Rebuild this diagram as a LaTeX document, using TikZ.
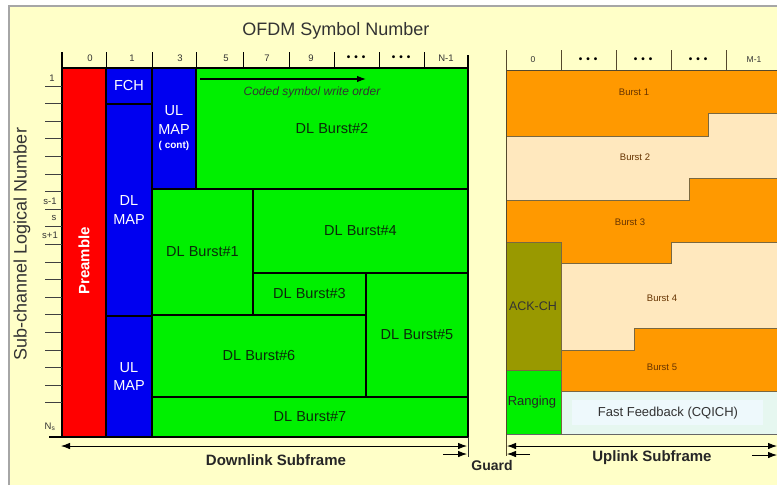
\documentclass[tikz,border=0pt]{standalone}
\usepackage{fontspec}
\setmainfont{Liberation Sans}
\usetikzlibrary{arrows.meta}
\definecolor{bgy}{HTML}{FFFFC8}
\definecolor{dlred}{HTML}{FF0000}
\definecolor{dlblue}{HTML}{0000F0}
\definecolor{dlgreen}{HTML}{00F000}
\definecolor{dltext}{HTML}{0A2A0A}
\definecolor{txtgray}{HTML}{333333}
\definecolor{ulorange}{HTML}{FF9900}
\definecolor{ulpeach}{HTML}{FFE8BE}
\definecolor{ulolive}{HTML}{999900}
\definecolor{ulline}{HTML}{7A6840}
\definecolor{ffbg}{HTML}{E6F7F0}
\definecolor{ffin}{HTML}{EEF9FC}
\definecolor{brn}{HTML}{663300}
\begin{document}
\begin{tikzpicture}[x=1pt,y=-1pt,
  blk/.style={draw=black,line width=1.5pt,inner sep=0pt,outer sep=0pt,anchor=north west,align=center,font=\fontsize{14.5}{18.5}\selectfont},
  dlb/.style={blk,fill=dlgreen,text=dltext},
  bluebox/.style={blk,fill=dlblue,text=white},
  tk/.style={draw=black,line width=0.8pt},
  utk/.style={draw=ulline!70!black,line width=0.8pt},
  tkl/.style={font=\fontsize{9.5}{11}\selectfont,text=txtgray,inner sep=0pt},
  dotl/.style={font=\fontsize{10}{11}\selectfont\bfseries,text=black,inner sep=0pt},
  ulb/.style={draw=ulline,line width=0.7pt},
  blbl/.style={font=\fontsize{9.5}{11}\selectfont,text=brn,inner sep=0pt},
  arr/.style={-{Latex[length=9pt,width=6.5pt]},line width=0.8pt},
  darr/.style={{Latex[length=9pt,width=6.5pt]}-{Latex[length=9pt,width=6.5pt]},line width=0.8pt},
  ttl/.style={font=\fontsize{18}{20}\selectfont,text=txtgray,inner sep=0pt},
  bttl/.style={font=\fontsize{15}{17}\selectfont\bfseries,text=black!85,inner sep=0pt}
 ]
\useasboundingbox (0,0) rectangle (777,485);
% background
\fill[white] (0,0) rectangle (777,485);
\fill[bgy] (9,6) rectangle (777,485);
\draw[gray!70,line width=1.2pt] (9,485) -- (9,6) -- (777,6);

% titles
\node[ttl] (ofdm) at (336,31) {OFDM Symbol Number};
\node[ttl,rotate=90] (subch) at (22,244) {Sub-channel Logical Number};

% ---------------- Downlink blocks ----------------
\node[blk,fill=dlred,minimum width=44pt,minimum height=369pt] (pre) at (62,68) {};
\node[font=\fontsize{15}{17}\selectfont\bfseries,text=white,rotate=90,inner sep=0pt] (pretxt) at (84,261) {Preamble};
\node[bluebox,minimum width=46pt,minimum height=36pt] (fch) at (106,68) {FCH};
\node[bluebox,minimum width=46pt,minimum height=212pt] (dlmap) at (106,104) {DL\\MAP};
\node[bluebox,minimum width=46pt,minimum height=121pt] (ulmap) at (106,316) {UL\\MAP};
\node[bluebox,minimum width=44pt,minimum height=121pt] (ulcont) at (152,68) {UL\\MAP\\[-4pt]{\fontsize{10}{12}\selectfont\bfseries( cont)}};
\node[dlb,minimum width=272pt,minimum height=121pt] (b2) at (196,68) {DL Burst\#2};
\node[dlb,minimum width=101pt,minimum height=126pt] (b1) at (152,189) {DL Burst\#1};
\node[dlb,minimum width=215pt,minimum height=84pt] (b4) at (253,189) {DL Burst\#4};
\node[dlb,minimum width=113pt,minimum height=42pt] (b3) at (253,273) {DL Burst\#3};
\node[dlb,minimum width=102pt,minimum height=124pt] (b5) at (366,273) {DL Burst\#5};
\node[dlb,minimum width=214pt,minimum height=82pt] (b6) at (152,315) {DL Burst\#6};
\node[dlb,minimum width=316pt,minimum height=40pt] (b7) at (152,397) {DL Burst\#7};

% write order arrow
\coordinate (wo1) at (200,79);
\coordinate (wo2) at (366,79);
\draw[arr,line width=1.1pt] (wo1) -- (wo2);
\node[font=\fontsize{12}{14}\selectfont\itshape,text=txtgray,inner sep=0pt] (wotxt) at (312,92) {Coded symbol write order};

% DL axes
\foreach \x in {106,152,196,243,289,334,379,424} \draw[tk] (\x,52) -- (\x,68);
\draw[black,line width=2.5pt] (62,52) -- (62,438);
\draw[black,line width=2.5pt] (468,55) -- (468,438);
\draw[black,line width=2.5pt] (61,68) -- (469,68);
\draw[black,line width=2.5pt] (49,437) -- (469,437);
\foreach \k in {0,...,18} \draw[tk,draw=black!75] (45,86+17.6*\k) -- (62,86+17.6*\k);

% DL tick labels
\node[tkl] (c0) at (90,58) {0};
\node[tkl] (c1) at (132,58) {1};
\node[tkl] (c3) at (180,58) {3};
\node[tkl] (c5) at (226,58) {5};
\node[tkl] (c7) at (267,58) {7};
\node[tkl] (c9) at (311,58) {9};
\node[dotl] (cd1) at (356,58) {•\hspace{4pt}•\hspace{4pt}•};
\node[dotl] (cd2) at (401,58) {•\hspace{4pt}•\hspace{4pt}•};
\node[tkl] (cn) at (446,58) {N-1};
\node[tkl] (r1) at (52,78) {1};
\node[tkl] (rs1) at (50,201) {s-1};
\node[tkl] (rs) at (54,218) {s};
\node[tkl] (rs2) at (50,235) {s+1};
\node[tkl] (rn) at (50,427) {N$_{\mathrm{s}}$};

% ---------------- Uplink ----------------
\fill[ulorange] (506,70) -- (777,70) -- (777,113) -- (708,113) -- (708,136) -- (506,136) -- cycle;
\fill[ulpeach] (506,136) -- (708,136) -- (708,113) -- (777,113) -- (777,178) -- (689,178) -- (689,200) -- (506,200) -- cycle;
\fill[ulorange] (506,200) -- (689,200) -- (689,178) -- (777,178) -- (777,242) -- (671,242) -- (671,263) -- (561,263) -- (561,242) -- (506,242) -- cycle;
\fill[ulolive] (506,242) rectangle (561,370);
\fill[ulpeach] (561,263) -- (671,263) -- (671,242) -- (777,242) -- (777,328) -- (634,328) -- (634,350) -- (561,350) -- cycle;
\fill[ulorange] (561,350) -- (634,350) -- (634,328) -- (777,328) -- (777,391) -- (561,391) -- cycle;
\fill[dlgreen] (506,370) rectangle (561,434);
\fill[ffbg] (561,391) rectangle (777,434);
\fill[ffin] (572,400) rectangle (763,425);
% borders
\draw[ulb] (506,136) -- (708,136) -- (708,113) -- (777,113);
\draw[ulb] (506,200) -- (689,200) -- (689,178) -- (777,178);
\draw[ulb] (506,242) -- (561,242) -- (561,263) -- (671,263) -- (671,242) -- (777,242);
\draw[ulb] (561,242) -- (561,434);
\draw[ulb] (561,350) -- (634,350) -- (634,328) -- (777,328);
\draw[ulb] (561,391) -- (777,391);
\draw[ulb] (506,370) -- (561,370);
\draw[draw=gray!80!black,line width=0.8pt] (506,434) -- (777,434);
% UL axes
\draw[utk] (506,50) -- (506,456);
\draw[utk] (506,70) -- (777,70);
\foreach \x in {561,616,671,726} \draw[utk] (\x,50) -- (\x,70);
\node[tkl,font=\fontsize{8.5}{10}\selectfont] (u0) at (533,60) {0};
\node[dotl] (ud1) at (588,60) {•\hspace{4pt}•\hspace{4pt}•};
\node[dotl] (ud2) at (643,60) {•\hspace{4pt}•\hspace{4pt}•};
\node[dotl] (ud3) at (698,60) {•\hspace{4pt}•\hspace{4pt}•};
\node[tkl,font=\fontsize{8.5}{10}\selectfont] (um) at (754,60) {M-1};

% UL labels
\node[blbl] (u1) at (634,92) {Burst 1};
\node[blbl] (u2) at (635,157) {Burst 2};
\node[blbl] (u3) at (630,222) {Burst 3};
\node[blbl] (u4) at (662,298) {Burst 4};
\node[blbl] (u5) at (662,367) {Burst 5};
\node[font=\fontsize{12.5}{14}\selectfont,text=black!80,inner sep=0pt] (ack) at (533,306) {ACK-CH};
\node[font=\fontsize{13}{15}\selectfont,text=black!85,inner sep=0pt] (rng) at (532,402) {Ranging};
\node[font=\fontsize{13}{15}\selectfont,text=txtgray,inner sep=0pt] (ff) at (668,413) {Fast Feedback (CQICH)};

% ---------------- bottom arrows ----------------
\draw[black!80,line width=0.8pt] (468,437) -- (468,457);
\coordinate (dlL) at (61,446);
\coordinate (dlR) at (467,446);
\draw[darr] (dlL) -- (dlR);
\coordinate (g1s) at (443,454);
\coordinate (g1e) at (467,454);
\draw[arr] (g1s) -- (g1e);
\coordinate (g2s) at (530,454);
\coordinate (g2e) at (507,454);
\draw[arr] (g2s) -- (g2e);
\coordinate (ulL) at (507,446);
\coordinate (ulR) at (777,446);
\draw[darr] (ulL) -- (ulR);
\coordinate (u2s) at (752,455);
\coordinate (u2e) at (777,455);
\draw[arr] (u2s) -- (u2e);
\node[bttl] (dls) at (276,460) {Downlink Subframe};
\node[bttl] (uls) at (652,458) {Uplink Subframe};
\node[bttl,font=\fontsize{14}{16}\selectfont\bfseries] (guard) at (492,465) {Guard};
\end{tikzpicture}
\end{document}
